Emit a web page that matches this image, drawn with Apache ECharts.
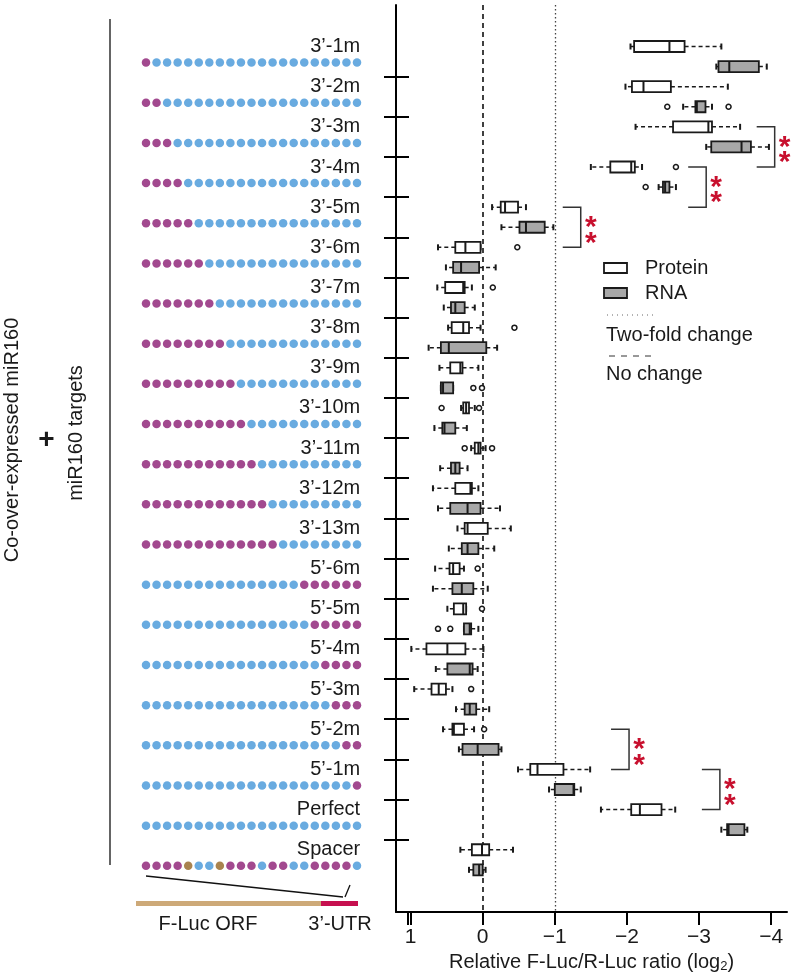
<!DOCTYPE html>
<html>
<head>
<meta charset="utf-8">
<title>miR160 target reporters</title>
<script src="https://cdn.jsdelivr.net/npm/echarts@6/dist/echarts.min.js"></script>
<style>
  html, body { margin: 0; padding: 0; background: #fff; }
  #chart { width: 793px; height: 978px; }
</style>
</head>
<body>
<div id="chart"></div>
<script>
  // constructs, top to bottom
  const constructs = ["3’-1m", "3’-2m", "3’-3m", "3’-4m", "3’-5m", "3’-6m", "3’-7m", "3’-8m", "3’-9m",
    "3’-10m", "3’-11m", "3’-12m", "3’-13m", "5’-6m", "5’-5m", "5’-4m", "5’-3m", "5’-2m", "5’-1m",
    "Perfect", "Spacer"];

  // target site, 21 nt: x = mismatch, o = paired, s = spacer (groups of 5 for reading)
  const targetPatterns = [
    "xoooo ooooo ooooo ooooo o",
    "xxooo ooooo ooooo ooooo o",
    "xxxoo ooooo ooooo ooooo o",
    "xxxxo ooooo ooooo ooooo o",
    "xxxxx ooooo ooooo ooooo o",
    "xxxxx xoooo ooooo ooooo o",
    "xxxxx xxooo ooooo ooooo o",
    "xxxxx xxxoo ooooo ooooo o",
    "xxxxx xxxxo ooooo ooooo o",
    "xxxxx xxxxx ooooo ooooo o",
    "xxxxx xxxxx xoooo ooooo o",
    "xxxxx xxxxx xxooo ooooo o",
    "xxxxx xxxxx xxxoo ooooo o",
    "ooooo ooooo ooooo xxxxx x",
    "ooooo ooooo ooooo oxxxx x",
    "ooooo ooooo ooooo ooxxx x",
    "ooooo ooooo ooooo oooxx x",
    "ooooo ooooo ooooo oooox x",
    "ooooo ooooo ooooo ooooo x",
    "ooooo ooooo ooooo ooooo o",
    "xxxxs oosxx xoxxo oxxxx o"
  ];

  // log2 F-Luc/R-Luc: [low whisker, Q1, median, Q3, high whisker]
  const proteinBoxes = [
    [-3.31, -2.80, -2.59, -2.10, -2.05],
    [-3.40, -2.61, -2.23, -2.07, -1.98],
    [-3.57, -3.18, -3.13, -2.64, -2.12],
    [-2.21, -2.11, -2.06, -1.77, -1.50],
    [-0.60, -0.49, -0.31, -0.25, -0.13],
    [0.03, 0.03, 0.24, 0.38, 0.62],
    [0.15, 0.25, 0.27, 0.52, 0.63],
    [0.03, 0.19, 0.27, 0.43, 0.48],
    [0.06, 0.28, 0.31, 0.45, 0.60],
    [0.11, 0.19, 0.23, 0.27, 0.30],
    [-0.04, 0.03, 0.06, 0.11, 0.16],
    [0.06, 0.15, 0.17, 0.38, 0.69],
    [-0.39, -0.07, 0.21, 0.25, 0.35],
    [0.26, 0.32, 0.41, 0.46, 0.66],
    [0.23, 0.23, 0.27, 0.40, 0.49],
    [-0.01, 0.24, 0.49, 0.78, 0.99],
    [0.42, 0.51, 0.61, 0.71, 0.95],
    [0.12, 0.26, 0.40, 0.42, 0.55],
    [-1.49, -1.12, -0.76, -0.66, -0.49],
    [-2.67, -2.48, -2.18, -2.06, -1.64],
    [-0.42, -0.09, 0.01, 0.15, 0.31]
  ];
  const rnaBoxes = [
    [-3.94, -3.83, -3.42, -3.27, -3.24],
    [-3.18, -3.09, -2.97, -2.95, -2.78],
    [-3.97, -3.72, -3.59, -3.17, -3.10],
    [-2.68, -2.59, -2.53, -2.50, -2.44],
    [-0.98, -0.86, -0.60, -0.51, -0.26],
    [-0.18, 0.05, 0.30, 0.41, 0.51],
    [0.11, 0.25, 0.38, 0.44, 0.54],
    [-0.20, -0.05, 0.47, 0.58, 0.75],
    [0.41, 0.41, 0.55, 0.58, 0.58],
    [0.22, 0.38, 0.53, 0.56, 0.67],
    [0.21, 0.32, 0.38, 0.44, 0.59],
    [-0.24, 0.03, 0.21, 0.45, 0.62],
    [-0.16, 0.06, 0.21, 0.29, 0.47],
    [-0.07, 0.13, 0.29, 0.42, 0.69],
    [0.06, 0.16, 0.18, 0.26, 0.26],
    [0.07, 0.14, 0.18, 0.49, 0.65],
    [-0.09, 0.09, 0.18, 0.25, 0.37],
    [-0.26, -0.22, 0.07, 0.28, 0.33],
    [-1.36, -1.27, -1.26, -1.00, -0.92],
    [-3.67, -3.63, -3.41, -3.39, -3.31],
    [-0.04, 0.00, 0.05, 0.13, 0.19]
  ];

  // outliers: [construct index, value]
  const proteinOutliers = [[3, -2.68], [5, -0.48], [6, -0.14], [7, -0.44], [9, 0.57], [9, 0.05],
    [10, 0.25], [10, -0.13], [13, 0.07], [14, 0.01], [16, 0.16], [17, -0.02]];
  const rnaOutliers = [[1, -2.56], [1, -3.41], [3, -2.26], [8, 0.13], [8, 0.01], [14, 0.62], [14, 0.45]];

  // significance (**): from protein of construct a to protein of construct b, bracket starts at x value
  const brackets = [[2, 3, -3.80], [3, 4, -2.85], [4, 5, -1.11], [17, 18, -1.78], [18, 19, -3.04]];

  const xTicks = [1, 0, -1, -2, -3, -4];
  const noChange = 0;
  const twoFold = -1;

  const FONT = 'Liberation Sans, Arial, sans-serif';
  const INK = '#1a1a1a';
  const Y_MIN = -2.067, Y_MAX = 43.1;
  const dotColors = { x: '#a2498f', o: '#69abe0', s: '#a9834f' };

  const chart = echarts.init(document.getElementById('chart'));

  const boundaries = constructs.slice(1).map((c, k) => 2 * k + 1.5);

  const protData = proteinBoxes.map((b, k) => [2 * k].concat(b));
  const rnaData = rnaBoxes.map((b, k) => [2 * k + 1].concat(b));

  function renderBox(params, api) {
    const row = api.value(0);
    const xs = [1, 2, 3, 4, 5].map(d => api.coord([api.value(d), row])[0]);
    const y = api.coord([0, row])[1];
    const h = 11, cap = 6;
    const left = Math.min(xs[1], xs[3]), right = Math.max(xs[1], xs[3]);
    const fill = params.seriesName === 'RNA' ? '#a8a8a8' : '#fff';
    const dash = { stroke: INK, lineWidth: 1.5, lineDash: [4, 3] };
    const solid = { stroke: INK, lineWidth: 2 };
    return {
      type: 'group',
      children: [
        { type: 'line', shape: { x1: xs[1], y1: y, x2: xs[0], y2: y }, style: dash },
        { type: 'line', shape: { x1: xs[3], y1: y, x2: xs[4], y2: y }, style: dash },
        { type: 'line', shape: { x1: xs[0], y1: y - cap / 2, x2: xs[0], y2: y + cap / 2 }, style: solid },
        { type: 'line', shape: { x1: xs[4], y1: y - cap / 2, x2: xs[4], y2: y + cap / 2 }, style: solid },
        { type: 'rect', shape: { x: left, y: y - h / 2, width: right - left, height: h },
          style: { fill: fill, stroke: INK, lineWidth: 1.8 } },
        { type: 'line', shape: { x1: xs[2], y1: y - h / 2, x2: xs[2], y2: y + h / 2 }, style: solid }
      ]
    };
  }

  function renderBracket(params, api) {
    const a = api.coord([api.value(2), api.value(0)]);
    const b = api.coord([api.value(2), api.value(1)]);
    const x0 = a[0], x1 = x0 + 18, mid = (a[1] + b[1]) / 2;
    const star = (yy) => ({
      type: 'text', x: x1 + 10, y: yy,
      style: { text: '*', fill: '#c8102e', font: 'bold 30px ' + FONT, align: 'center', verticalAlign: 'middle' }
    });
    return {
      type: 'group',
      children: [
        { type: 'polyline', shape: { points: [[x0, a[1]], [x1, a[1]], [x1, b[1]], [x0, b[1]]] },
          style: { stroke: '#333', lineWidth: 1.5, fill: 'none' } },
        star(mid + 0.5),
        star(mid + 16)
      ]
    };
  }

  const dotData = [];
  targetPatterns.forEach((p, k) => {
    p.replace(/ /g, '').split('').forEach((c, j) => dotData.push([j, 2 * k + 1 - 0.2, c]));
  });
  const labelData = constructs.map((name, k) => [20.3, 2 * k, name]);

  const outlierStyle = { color: '#fff', borderColor: INK, borderWidth: 1.5, opacity: 1 };

  chart.setOption({
    animation: false,
    backgroundColor: '#fff',
    grid: [
      { left: 396, top: 5, width: 391, height: 907 },
      { left: 146, top: 5, width: 211, height: 907 }
    ],
    xAxis: [
      {
        type: 'value', gridIndex: 0, inverse: true, min: -4.2205, max: 1.2025, position: 'bottom',
        axisLine: { show: true, onZero: false, lineStyle: { color: '#000', width: 2 } },
        axisTick: { show: true, length: 13, lineStyle: { color: '#000', width: 2 },
          customValues: [1.035].concat(xTicks) },
        axisLabel: { customValues: xTicks, margin: 15, fontSize: 21, fontFamily: FONT, color: INK,
          formatter: v => (v < 0 ? '−' + Math.abs(v) : String(v)) },
        splitLine: { show: false },
        name: 'Relative F-Luc/R-Luc ratio (log{s|2})',
        nameLocation: 'middle', nameGap: 34,
        nameTextStyle: { fontSize: 20, fontFamily: FONT, color: INK,
          rich: { s: { fontSize: 13, fontFamily: FONT, color: INK, lineHeight: 8, verticalAlign: 'bottom' } } }
      },
      { type: 'value', gridIndex: 1, min: 0, max: 20, show: false }
    ],
    yAxis: [
      {
        type: 'value', gridIndex: 0, inverse: true, min: Y_MIN, max: Y_MAX, position: 'left', offset: 0,
        axisLine: { show: true, onZero: false, lineStyle: { color: '#000', width: 2 } },
        axisTick: { show: true, inside: false, length: 12, customValues: boundaries,
          lineStyle: { color: '#000', width: 2 } },
        axisLabel: { show: false }, splitLine: { show: false }
      },
      {
        type: 'value', gridIndex: 0, inverse: true, min: Y_MIN, max: Y_MAX, position: 'left', offset: 0,
        axisLine: { show: false, onZero: false },
        axisTick: { show: true, inside: true, length: 13, customValues: boundaries,
          lineStyle: { color: '#000', width: 2 } },
        axisLabel: { show: false }, splitLine: { show: false }
      },
      { type: 'value', gridIndex: 1, inverse: true, min: Y_MIN, max: Y_MAX, show: false }
    ],
    series: [
      {
        name: 'Protein', type: 'custom', xAxisIndex: 0, yAxisIndex: 0,
        renderItem: renderBox, data: protData, encode: { x: [1, 2, 3, 4, 5], y: 0 }, z: 3
      },
      {
        name: 'RNA', type: 'custom', xAxisIndex: 0, yAxisIndex: 0,
        renderItem: renderBox, data: rnaData, encode: { x: [1, 2, 3, 4, 5], y: 0 }, z: 3
      },
      {
        name: 'outliers', type: 'scatter', xAxisIndex: 0, yAxisIndex: 0,
        symbol: 'circle', symbolSize: 5, itemStyle: outlierStyle, z: 4,
        data: proteinOutliers.map(([k, v]) => [v, 2 * k])
          .concat(rnaOutliers.map(([k, v]) => [v, 2 * k + 1])),
        markLine: {
          symbol: 'none', silent: true, label: { show: false }, z: 2,
          data: [
            { xAxis: noChange, lineStyle: { type: [5, 4], color: '#111', width: 1.6 } },
            { xAxis: twoFold, lineStyle: { type: [1.5, 2.5], color: '#444', width: 1.3 } }
          ]
        }
      },
      {
        name: 'significance', type: 'custom', xAxisIndex: 0, yAxisIndex: 0,
        renderItem: renderBracket,
        data: brackets.map(([a, b, x]) => [2 * a, 2 * b, x]),
        encode: { x: 2, y: [0, 1] }, z: 5
      },
      {
        name: 'target', type: 'scatter', xAxisIndex: 1, yAxisIndex: 2, clip: false,
        symbol: 'circle', symbolSize: 8.5,
        itemStyle: { opacity: 1, color: p => dotColors[p.data[2]] },
        data: dotData
      },
      {
        name: 'labels', type: 'scatter', xAxisIndex: 1, yAxisIndex: 2, clip: false,
        symbolSize: 0, itemStyle: { opacity: 1 },
        label: { show: true, position: 'left', distance: 0, formatter: p => p.data[2],
          fontSize: 20, fontFamily: FONT, color: INK, opacity: 1 },
        data: labelData
      }
    ],
    graphic: [
      // left annotation
      { type: 'line', shape: { x1: 110, y1: 19, x2: 110, y2: 865 }, style: { stroke: '#111', lineWidth: 1.3 } },
      { type: 'text', x: 12, y: 440, rotation: Math.PI / 2,
        style: { text: 'Co-over-expressed miR160', font: '20px ' + FONT, fill: INK, align: 'center', verticalAlign: 'middle' } },
      { type: 'text', x: 46.5, y: 440,
        style: { text: '+', font: 'bold 28px ' + FONT, fill: INK, align: 'center', verticalAlign: 'middle' } },
      { type: 'text', x: 76, y: 433, rotation: Math.PI / 2,
        style: { text: 'miR160 targets', font: '20px ' + FONT, fill: INK, align: 'center', verticalAlign: 'middle' } },
      // reporter schematic
      { type: 'line', shape: { x1: 146, y1: 876, x2: 343, y2: 897 }, style: { stroke: '#111', lineWidth: 1.3 } },
      { type: 'line', shape: { x1: 350, y1: 885, x2: 345, y2: 897 }, style: { stroke: '#111', lineWidth: 1.3 } },
      { type: 'rect', shape: { x: 136, y: 901, width: 185, height: 5 }, style: { fill: '#cda978' } },
      { type: 'rect', shape: { x: 321, y: 901, width: 37, height: 5 }, style: { fill: '#c6104f' } },
      { type: 'text', x: 208, y: 924,
        style: { text: 'F-Luc ORF', font: '20px ' + FONT, fill: INK, align: 'center', verticalAlign: 'middle' } },
      { type: 'text', x: 340, y: 924,
        style: { text: '3’-UTR', font: '20px ' + FONT, fill: INK, align: 'center', verticalAlign: 'middle' } },
      // legend
      { type: 'rect', shape: { x: 604, y: 263, width: 23, height: 10 }, style: { fill: '#fff', stroke: INK, lineWidth: 1.8 } },
      { type: 'text', x: 645, y: 268,
        style: { text: 'Protein', font: '20px ' + FONT, fill: INK, verticalAlign: 'middle' } },
      { type: 'rect', shape: { x: 604, y: 288, width: 23, height: 10 }, style: { fill: '#a8a8a8', stroke: INK, lineWidth: 1.8 } },
      { type: 'text', x: 645, y: 293,
        style: { text: 'RNA', font: '20px ' + FONT, fill: INK, verticalAlign: 'middle' } },
      { type: 'line', shape: { x1: 607, y1: 315, x2: 655, y2: 315 },
        style: { stroke: '#666', lineWidth: 1, lineDash: [1, 4] } },
      { type: 'text', x: 606, y: 335,
        style: { text: 'Two-fold change', font: '20px ' + FONT, fill: INK, verticalAlign: 'middle' } },
      { type: 'line', shape: { x1: 609, y1: 356, x2: 656, y2: 356 },
        style: { stroke: '#333', lineWidth: 1, lineDash: [6, 6] } },
      { type: 'text', x: 606, y: 374,
        style: { text: 'No change', font: '20px ' + FONT, fill: INK, verticalAlign: 'middle' } }
    ]
  });
</script>
</body>
</html>
